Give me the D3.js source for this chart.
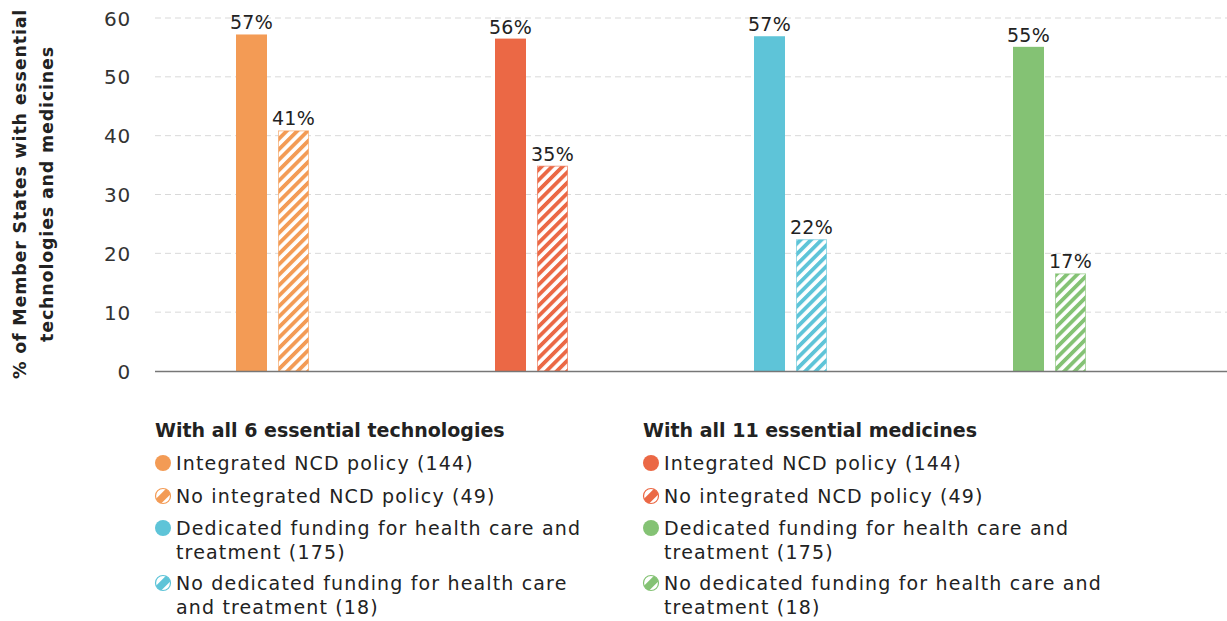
<!DOCTYPE html>
<html><head><meta charset="utf-8">
<script src="https://cdn.jsdelivr.net/npm/d3@7"></script>
<style>body{margin:0;background:#fff;} svg{display:block;font-family:"DejaVu Sans",sans-serif;}</style>
</head><body><svg id="c" width="1227" height="621"></svg>
<script>
const groups = ["tech_policy","med_policy","tech_funding","med_funding"];
const subKeys = ["with","without"];
const withValues = [57.2, 56.5, 56.9, 55.1];
const withoutValues = [40.9, 34.9, 22.4, 16.6];
const withLabels = ["57%","56%","57%","55%"];
const withoutLabels = ["41%","35%","22%","17%"];
const colors = ["#F39B55","#EB6845","#5EC4D8","#84C274"];
const yTicks = [0,10,20,30,40,50,60];
const yTitle = ["% of Member States with essential","technologies and medicines"];
const legendTitles = ["With all 6 essential technologies","With all 11 essential medicines"];
const legendItems = [
  [{c:0,h:false,t:["Integrated NCD policy (144)"]},
   {c:0,h:true,t:["No integrated NCD policy (49)"]},
   {c:2,h:false,t:["Dedicated funding for health care and","treatment (175)"]},
   {c:2,h:true,t:["No dedicated funding for health care","and treatment (18)"]}],
  [{c:1,h:false,t:["Integrated NCD policy (144)"]},
   {c:1,h:true,t:["No integrated NCD policy (49)"]},
   {c:3,h:false,t:["Dedicated funding for health care and","treatment (175)"]},
   {c:3,h:true,t:["No dedicated funding for health care and","treatment (18)"]}]
];

const svg = d3.select("#c");
const defs = svg.append("defs");
colors.forEach((col,i)=>{
  const p = defs.append("pattern").attr("id","hatch"+i).attr("patternUnits","userSpaceOnUse")
    .attr("width",7.4).attr("height",7.4).attr("patternTransform","rotate(45)");
  p.append("rect").attr("width",7.4).attr("height",7.4).attr("fill","#fff");
  p.append("rect").attr("x",0).attr("width",3.8).attr("height",7.4).attr("fill",col);
});

const y = d3.scaleLinear().domain([0,60]).range([371,18]);
const x0 = d3.scaleBand().domain(groups).range([143,1179]).padding(0);
const x1 = d3.scaleBand().domain(subKeys).range([93,166]).paddingInner(0.262).paddingOuter(0);

// gridlines
svg.append("g").selectAll("line").data(yTicks.filter(d=>d>0)).join("line")
  .attr("x1",155).attr("x2",1227).attr("y1",d=>y(d)).attr("y2",d=>y(d))
  .attr("stroke","#d9d9d9").attr("stroke-width",1).attr("stroke-dasharray","6,4");

// y axis labels
const yAxis = svg.append("g").attr("transform","translate(131,0)")
  .call(d3.axisLeft(y).tickValues(yTicks).tickSize(0).tickPadding(0));
yAxis.select(".domain").remove();
yAxis.selectAll("text").attr("font-size",20).attr("fill","#333").attr("font-family","'DejaVu Sans',sans-serif")
  .attr("letter-spacing",0.8).attr("dy","0.35em");

// bars
const data = groups.map((g,i)=>({g,i,vals:[
  {k:"with",v:withValues[i],lab:withLabels[i]},
  {k:"without",v:withoutValues[i],lab:withoutLabels[i]}]}));
const gg = svg.append("g").selectAll("g").data(data).join("g")
  .attr("transform",d=>`translate(${x0(d.g)},0)`);
gg.selectAll("rect").data(d=>d.vals.map(v=>({...v,i:d.i}))).join("rect")
  .attr("x",d=>x1(d.k)+(d.k==="without"?0.5:0))
  .attr("width",d=>x1.bandwidth()-(d.k==="without"?1:0))
  .attr("y",d=>y(d.v)+(d.k==="without"?0.5:0))
  .attr("height",d=>y(0)-y(d.v)-(d.k==="without"?0.5:0))
  .attr("fill",d=>d.k==="with"?colors[d.i]:`url(#hatch${d.i})`)
  .attr("stroke",d=>d.k==="with"?"none":colors[d.i])
  .attr("stroke-opacity",0.6)
  .attr("stroke-width",1);
gg.selectAll("text").data(d=>d.vals).join("text")
  .attr("x",d=>x1(d.k)+x1.bandwidth()/2).attr("y",d=>y(d.v)-5)
  .attr("text-anchor","middle").attr("font-size",19).attr("letter-spacing",0.3).attr("fill","#222").text(d=>d.lab);

// baseline
svg.append("line").attr("x1",155).attr("x2",1227).attr("y1",y(0)+0.5).attr("y2",y(0)+0.5)
  .attr("stroke","#777").attr("stroke-width",1.5);

// y title
const yt = svg.append("text").attr("transform","translate(0,194) rotate(-90)")
  .attr("text-anchor","middle").attr("font-weight","bold").attr("font-size",17.5).attr("letter-spacing",0.8).attr("fill","#222");
yt.selectAll("tspan").data(yTitle).join("tspan").attr("x",0).attr("y",(d,i)=>26+i*27).text(d=>d);

// legend
const colX = [155,643];
const itemY = [470,503,535,590];
legendTitles.forEach((t,ci)=>{
  const lg = svg.append("g").attr("transform",`translate(${colX[ci]},0)`);
  lg.append("text").attr("x",0).attr("y",437).attr("font-weight","bold").attr("font-size",19).attr("fill","#222").text(t);
  legendItems[ci].forEach((it,ii)=>{
    const cy = itemY[ii]-7;
    const col = colors[it.c];
    if(!it.h){
      lg.append("circle").attr("cx",8).attr("cy",cy).attr("r",8).attr("fill",col);
    } else {
      const cid = `lc${ci}_${ii}`;
      defs.append("clipPath").attr("id",cid).append("circle").attr("cx",8).attr("cy",cy).attr("r",7.5);
      lg.append("rect").attr("x",8-3).attr("y",cy-14).attr("width",7).attr("height",28)
        .attr("fill",col).attr("clip-path",`url(#${cid})`)
        .attr("transform",`rotate(45,8,${cy})`);
      lg.append("circle").attr("cx",8).attr("cy",cy).attr("r",7.5).attr("fill","none").attr("stroke",col).attr("stroke-width",1.2);
    }
    const tx = lg.append("text").attr("font-size",19).attr("letter-spacing",1.15).attr("fill","#222");
    tx.selectAll("tspan").data(it.t).join("tspan").attr("x",21).attr("y",(d,k)=>itemY[ii]+k*24).text(d=>d);
  });
});
</script></body></html>
